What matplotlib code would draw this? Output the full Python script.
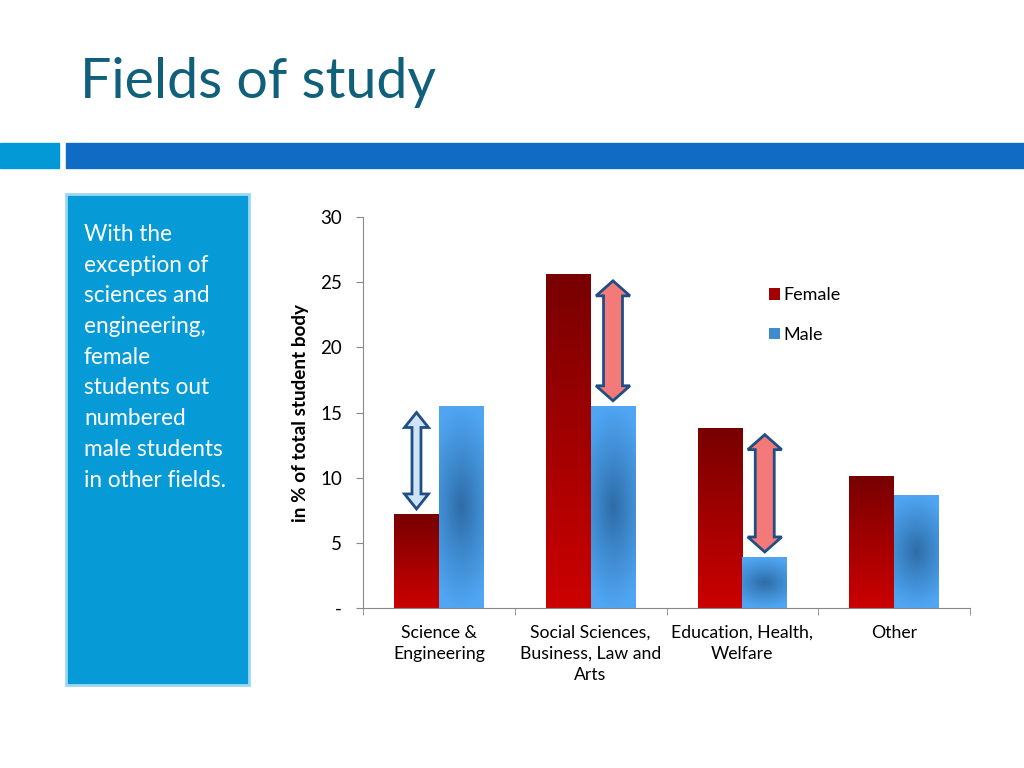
import matplotlib
matplotlib.use("Agg")
import matplotlib.pyplot as plt
import numpy as np
from matplotlib.patches import Rectangle, Polygon, Patch
from matplotlib.colors import LinearSegmentedColormap

plt.rcParams['font.family'] = ['Lato', 'DejaVu Sans']

categories = ["Science &\nEngineering", "Social Sciences,\nBusiness, Law and\nArts",
              "Education, Health,\nWelfare", "Other"]
female = [7.2, 25.6, 13.8, 10.1]
male = [15.5, 15.5, 3.9, 8.7]
yticks = [0, 5, 10, 15, 20, 25, 30]
ytick_labels = ["-", "5", "10", "15", "20", "25", "30"]
# arrows: (category index, which bar the arrow sits on, fill colour, shaft px, head px)
arrows = [(0, "female", "#cfe3f7", 9, 24), (1, "male", "#f47a7a", 19, 34),
          (2, "male", "#f47a7a", 19, 34)]

fig = plt.figure(figsize=(10.24, 7.68), dpi=100)
fig.patch.set_facecolor("white")

# title and header strip
fig.text(80 / 1024, 1 - 83 / 768, "Fields of study", fontsize=40, color="#10607c",
         va="center", ha="left")
fig.patches.append(Rectangle((0, 1 - 168 / 768), 59 / 1024, 25 / 768,
                             transform=fig.transFigure, color="#0399d6"))
fig.patches.append(Rectangle((66 / 1024, 1 - 168 / 768), 958 / 1024, 25 / 768,
                             transform=fig.transFigure, color="#106bc4"))

# left text box
fig.patches.append(Rectangle((66 / 1024, 1 - 685 / 768), 183 / 1024, 491 / 768,
                             transform=fig.transFigure, facecolor="#069bd7",
                             edgecolor="#9bd8f2", linewidth=2))
box_text = ("With the\nexception of\nsciences and\nengineering,\nfemale\n"
            "students out\nnumbered\nmale students\nin other fields.")
fig.text(84 / 1024, 1 - 224 / 768, box_text, fontsize=16.3, color="white",
         va="top", ha="left", linespacing=1.57)

ax = fig.add_axes([363 / 1024, 1 - 608 / 768, 607 / 1024, 391 / 768])
x = np.arange(len(categories))
w = 0.295
ax.set_xlim(-0.5, len(categories) - 0.5)
ax.set_ylim(0, 30)

red_cmap = LinearSegmentedColormap.from_list("red", ["#cc0000", "#780000"])
blue_cmap = LinearSegmentedColormap.from_list("blue", ["#2f6da8", "#3f8bd0", "#50a6f3"])

fbars = ax.bar(x - w / 2, female, w, color="none", label="Female")
mbars = ax.bar(x + w / 2, male, w, color="none", label="Male")

grad_v = np.linspace(0, 1, 256).reshape(-1, 1)
for b in fbars:
    bx, by, bw, bh = b.get_x(), b.get_y(), b.get_width(), b.get_height()
    im = ax.imshow(grad_v, cmap=red_cmap, origin="lower", aspect="auto",
                   extent=(bx, bx + bw, by, by + bh), zorder=2)
    im.set_clip_path(b)

yy, xx = np.mgrid[0:1:200j, 0:1:60j]
dist = np.clip(np.sqrt(((yy - 0.5) / 0.5) ** 2 + 0.35 * ((xx - 0.5) / 0.5) ** 2), 0, 1)
for b in mbars:
    bx, by, bw, bh = b.get_x(), b.get_y(), b.get_width(), b.get_height()
    im = ax.imshow(dist, cmap=blue_cmap, origin="lower", aspect="auto",
                   extent=(bx, bx + bw, by, by + bh), zorder=2)
    im.set_clip_path(b)

# double headed arrows between female and male heights
px_x = 1 / 152.0
px_y = 30 / 391.0
for i, side, col, shaft, head in arrows:
    lo, hi = sorted([female[i], male[i]])
    xc = x[i] - w / 2 if side == "female" else x[i] + w / 2
    y0, y1 = lo + 0.4, hi - 0.5
    hl = 15 * px_y
    sw = shaft / 2 * px_x
    hw = head / 2 * px_x
    pts = [(xc, y1), (xc + hw, y1 - hl), (xc + sw, y1 - hl), (xc + sw, y0 + hl),
           (xc + hw, y0 + hl), (xc, y0), (xc - hw, y0 + hl), (xc - sw, y0 + hl),
           (xc - sw, y1 - hl), (xc - hw, y1 - hl)]
    ax.add_patch(Polygon(pts, closed=True, facecolor=col, edgecolor="#1f4e85",
                         linewidth=2, joinstyle="miter", zorder=4))

ax.set_yticks(yticks)
ax.set_yticklabels(ytick_labels, fontsize=13.5)
ax.set_xticks(x)
ax.set_xticklabels(categories, fontsize=12.7, linespacing=1.38)
ax.set_xticks(np.arange(-0.5, len(categories)), minor=True)
ax.tick_params(axis="x", which="major", length=0, pad=12)
ax.tick_params(axis="x", which="minor", length=5, color="#888888")
ax.tick_params(axis="y", length=5, color="#888888", pad=10)
for s in ["top", "right"]:
    ax.spines[s].set_visible(False)
for s in ["left", "bottom"]:
    ax.spines[s].set_color("#888888")
ax.set_ylabel("in % of total student body", fontsize=13.6, fontweight="bold", labelpad=8)

handles = [Patch(facecolor="#a30000"), Patch(facecolor="#3f8bd0")]
ax.legend(handles, ["Female", "Male"], loc="upper left",
          bbox_to_anchor=(753 / 1024, 1 - 271 / 768), bbox_transform=fig.transFigure,
          frameon=False, fontsize=13, handlelength=0.6, handleheight=0.6,
          handletextpad=0.2, labelspacing=1.3)

fig.savefig("out.png", dpi=100)
